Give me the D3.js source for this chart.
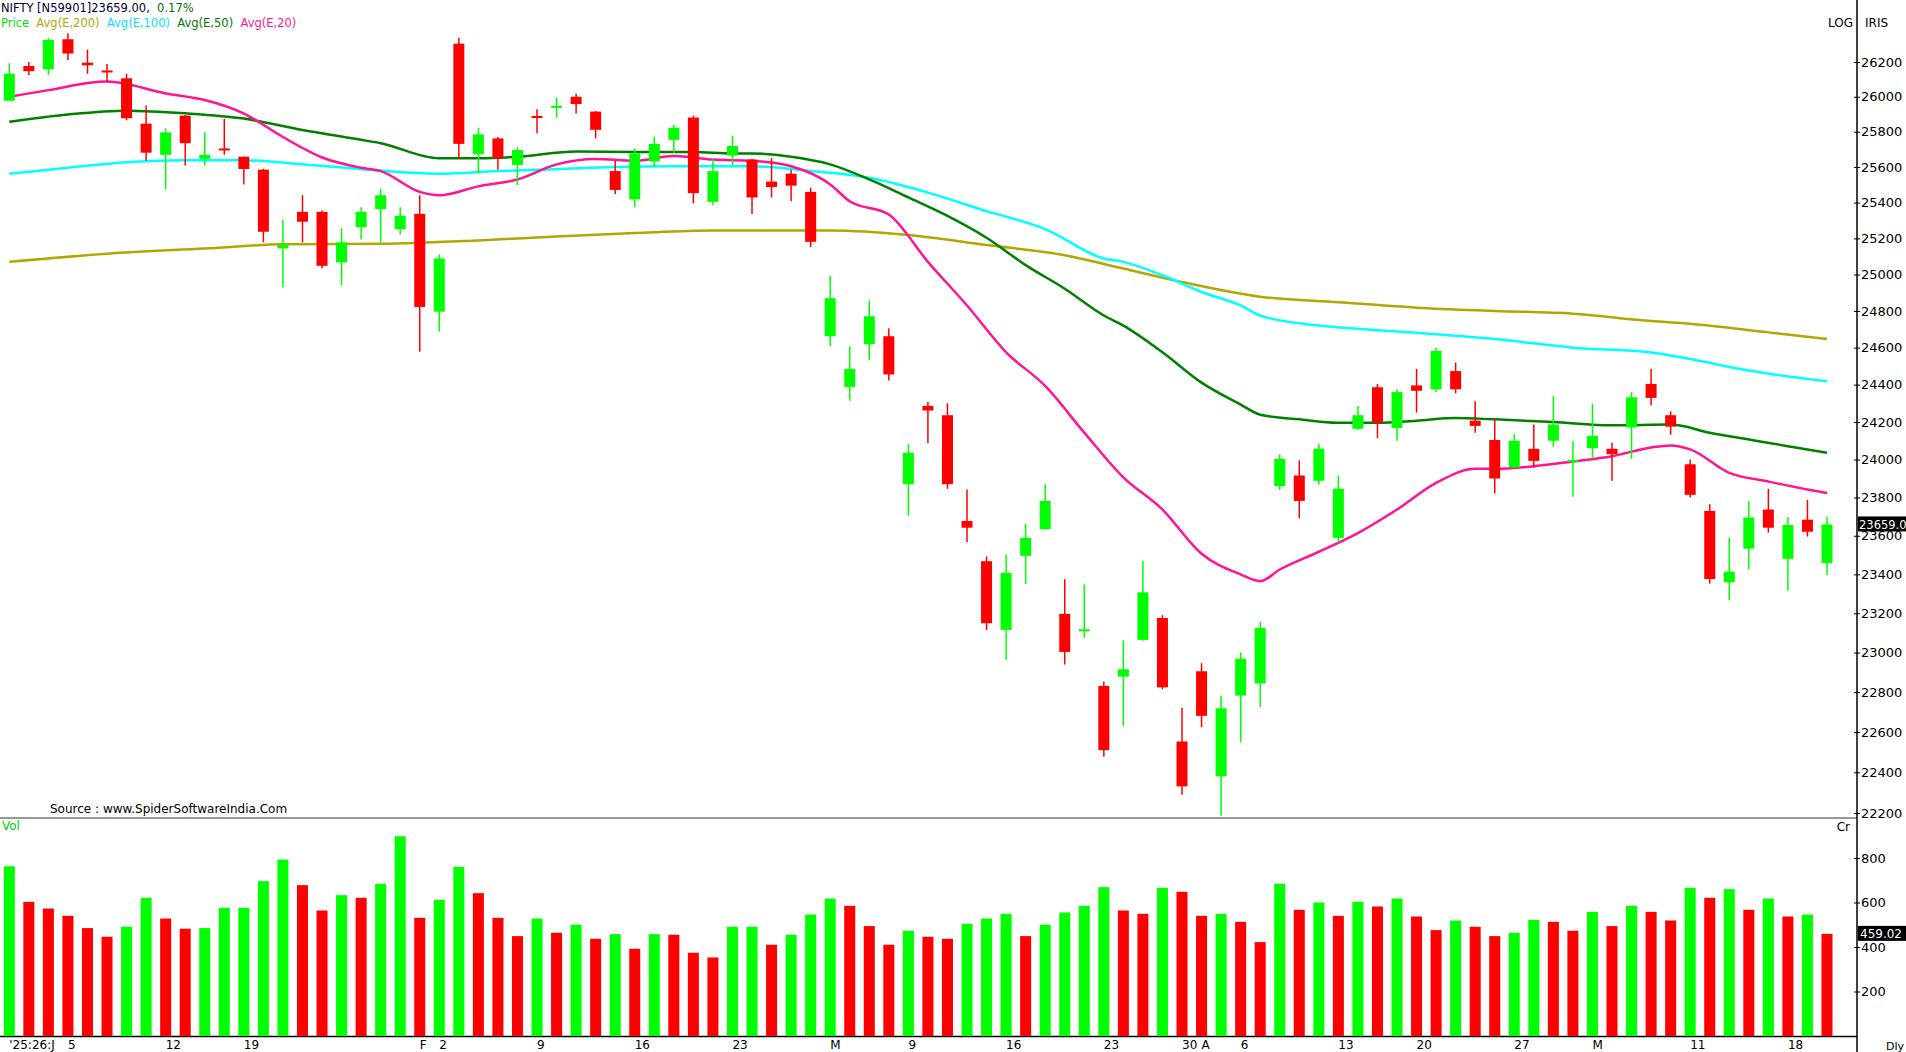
<!DOCTYPE html>
<html>
<head>
<meta charset="utf-8">
<script src="https://cdn.jsdelivr.net/npm/d3@7"></script>
<style>
  body { margin: 0; background: #fff; }
  svg { display: block; font-family: "DejaVu Sans", Tahoma, sans-serif; }
</style>
</head>
<body>
<svg id="chart" width="1906" height="1052"></svg>
<script>
// daily OHLC
const open  = [25977,26177,26158,26332,26196,26151,26106,25846,25669,25892,25646,25705,25658,25585,25144,25348,25348,25067,25263,25363,
  25252,25337,24796,26306,25673,25762,25612,25890,25938,26000,25915,25577,25418,25631,25754,25881,25404,25665,25642,25518,
  25562,25460,24662,24388,24618,24662,23870,24286,24236,23677,23468,23115,23496,23635,23197,23110,22831,22878,23064,23176,
  22553,22905,22380,22783,22844,23860,23916,23888,23589,24164,24386,24168,24396,24375,24473,24207,24104,23958,24057,24100,
  23990,24061,24057,24171,24404,24236,23975,23730,23359,23533,23737,23480,23684,23459];
const high  = [26193,26200,26340,26366,26272,26189,26132,25950,25819,25895,25796,25873,25660,25590,25304,25441,25355,25256,25374,25478,
  25374,25441,25111,26340,25823,25770,25712,25928,25996,26019,25918,25635,25704,25773,25838,25892,25646,25777,25645,25650,
  25585,25483,24993,24607,24858,24706,24082,24307,24300,23842,23493,23503,23663,23870,23375,23347,22854,23061,23469,23190,
  22722,22946,22783,23000,23156,24028,23996,24082,23916,24286,24404,24375,24484,24600,24520,24311,24211,24136,24186,24339,
  24097,24296,24089,24360,24484,24257,24000,23765,23589,23782,23846,23698,23789,23698];
const low   = [25975,26125,26125,26211,26132,26087,25865,25635,25475,25608,25608,25669,25502,25178,24930,25178,25033,24940,25196,25178,
  25222,24578,24687,25650,25565,25585,25498,25792,25881,25904,25762,25448,25374,25600,25681,25396,25385,25612,25336,25429,
  25407,25152,24607,24314,24531,24422,23705,24086,23846,23568,23115,22963,23350,23631,22939,23075,22477,22631,23060,22814,
  22289,22624,22187,22550,22725,23839,23691,23867,23565,24157,24114,24100,24250,24360,24353,24143,23821,23955,23958,24068,
  23804,24004,23888,24004,24289,24132,23800,23352,23266,23425,23617,23317,23596,23397];
const close = [26132,26147,26328,26249,26181,26140,25877,25681,25796,25735,25669,25700,25589,25237,25163,25293,25048,25178,25348,25441,
  25326,24822,25089,25731,25785,25650,25696,25880,25948,25958,25811,25471,25677,25731,25823,25453,25577,25719,25429,25487,
  25495,25181,24870,24484,24771,24455,24036,24261,23870,23642,23149,23407,23589,23782,23003,23118,22510,22915,23307,22824,
  22331,22681,22719,22969,23125,24004,23782,24057,23846,24236,24196,24360,24367,24582,24375,24179,23900,24100,23993,24186,
  23998,24125,24029,24332,24329,24175,23814,23376,23414,23695,23642,23656,23621,23659];

// volume (Cr) and bar colour flag (1 = green, 0 = red)
const volume = [763,603,573,540,485,446,491,621,528,482,485,576,576,696,793,678,564,633,621,684,
  898,531,612,760,642,531,449,528,464,500,437,458,392,458,455,374,353,491,491,410,
  455,546,618,585,494,410,473,446,437,504,528,549,449,500,555,585,669,564,549,666,
  648,540,549,513,422,684,567,600,540,603,582,618,537,476,519,491,449,464,522,513,
  473,558,494,585,558,519,666,621,660,567,618,537,546,459];
const volUp = [1,0,0,0,0,0,1,1,0,0,1,1,1,1,1,0,0,1,0,1,
  1,0,1,1,0,0,0,1,0,1,0,1,0,1,0,0,0,1,1,0,
  1,1,1,0,0,0,1,0,0,1,1,1,0,1,1,1,1,0,0,1,
  0,0,1,0,0,1,0,1,0,1,0,1,0,0,1,0,0,1,1,0,
  0,1,0,1,0,0,1,0,1,0,1,0,1,0];

// moving averages, read at sampled bars
const ema20Idx = [0,2,5,8,10,12,14,16,18,19,21,22,24,26,28,30,32,34,36,38,40,42,43,45,47,49,51,53,55,57,59,61,63,64,65,67,69,71,73,75,76,78,80,82,84,85,86,88,90,92,93];
const ema20 = [26000,26038,26087,26019,25981,25904,25770,25654,25596,25577,25460,25441,25491,25530,25615,25646,25635,25662,25642,25635,25604,25502,25407,25333,25070,24830,24575,24393,24143,23906,23737,23507,23400,23365,23425,23517,23614,23737,23877,23951,23951,23965,23990,24018,24064,24075,24054,23930,23884,23842,23824];
const ema50Idx = [0,3,6,9,12,15,18,19,22,24,26,29,32,35,37,38,40,42,44,46,48,50,52,54,56,57,59,61,63,64,66,68,70,72,74,76,79,82,85,87,89,91,93];
const ema50 = [25857,25898,25920,25905,25875,25810,25754,25735,25650,25650,25658,25688,25685,25685,25677,25677,25658,25615,25530,25429,25326,25204,25052,24922,24775,24720,24575,24411,24293,24239,24214,24196,24196,24207,24221,24214,24200,24182,24186,24143,24107,24071,24036];
const ema100Idx = [0,3,6,9,12,15,18,22,25,28,31,34,38,41,44,47,50,53,56,57,59,61,63,64,67,70,73,76,80,84,86,89,93];
const ema100 = [25562,25596,25627,25638,25638,25615,25588,25562,25577,25588,25600,25604,25604,25577,25539,25456,25352,25252,25089,25070,24996,24904,24830,24775,24720,24695,24673,24647,24600,24574,24538,24476,24418];
const ema200Idx = [0,5,10,14,19,24,28,32,36,42,46,50,54,57,60,64,68,72,76,80,84,86,90,93];
const ema200 = [25070,25115,25144,25167,25170,25189,25211,25230,25244,25244,25219,25163,25107,25033,24959,24878,24848,24818,24800,24785,24745,24730,24683,24647];

const priceTicks = d3.range(22200, 26201, 200);
const volTicks = [200, 400, 600, 800];
const dateLabels = [
  { i: 0, t: "'25:26:J" }, { i: 3, t: "5" }, { i: 8, t: "12" }, { i: 12, t: "19" },
  { i: 21, t: "F" }, { i: 22, t: "2" }, { i: 27, t: "9" }, { i: 32, t: "16" }, { i: 37, t: "23" },
  { i: 42, t: "M" }, { i: 46, t: "9" }, { i: 51, t: "16" }, { i: 56, t: "23" },
  { i: 60, t: "30" }, { i: 61, t: "A" }, { i: 63, t: "6" }, { i: 68, t: "13" }, { i: 72, t: "20" },
  { i: 77, t: "27" }, { i: 81, t: "M" }, { i: 86, t: "11" }, { i: 91, t: "18" }
];

const GREEN = "#00ff00", RED = "#ff0000";
const axisX = 1857;

const svg = d3.select("#chart");
const x = d3.scaleLinear().domain([0, open.length - 1]).range([9.3, 1827]);
const y = d3.scaleLog().domain([22200, 26200]).range([813, 62]);
const yv = d3.scaleLinear().domain([0, 800]).range([1036, 858]);

// panel frame
svg.append("line").attr("x1", 0).attr("x2", axisX).attr("y1", 818).attr("y2", 818)
  .attr("stroke", "#333").attr("stroke-width", 1);
svg.append("line").attr("x1", 0).attr("x2", axisX).attr("y1", 1036.5).attr("y2", 1036.5)
  .attr("stroke", "#000").attr("stroke-width", 1.5);
svg.append("line").attr("x1", axisX).attr("x2", axisX).attr("y1", 0).attr("y2", 1052)
  .attr("stroke", "#000").attr("stroke-width", 1.5);

// right axes
const pAxis = svg.append("g").attr("transform", `translate(${axisX},0)`)
  .call(d3.axisRight(y).tickValues(priceTicks).tickFormat(d3.format("d")).tickSize(3));
const vAxis = svg.append("g").attr("transform", `translate(${axisX},0)`)
  .call(d3.axisRight(yv).tickValues(volTicks).tickFormat(d3.format("d")).tickSize(3));
[pAxis, vAxis].forEach(g => {
  g.select(".domain").remove();
  g.selectAll(".tick line").attr("x1", -3).attr("stroke", "#000");
  g.selectAll(".tick text").attr("x", 4).attr("font-size", 13).attr("fill", "#000")
    .attr("font-family", "DejaVu Sans");
});

// moving averages
const maLine = d3.line().x(d => x(d[0])).y(d => y(d[1])).curve(d3.curveMonotoneX);
[[ema200Idx, ema200, "#b3a600"], [ema100Idx, ema100, "#00ffff"],
 [ema50Idx, ema50, "#008000"], [ema20Idx, ema20, "#ff1493"]].forEach(([idx, vals, c]) => {
  svg.append("path").datum(idx.map((k, j) => [k, vals[j]]))
    .attr("d", maLine).attr("fill", "none").attr("stroke", c).attr("stroke-width", 2.5);
});

// candles
const candles = d3.range(open.length);
const cg = svg.append("g");
cg.selectAll("line.wick").data(candles).enter().append("line")
  .attr("x1", i => x(i)).attr("x2", i => x(i))
  .attr("y1", i => y(high[i])).attr("y2", i => y(low[i]))
  .attr("stroke", i => close[i] >= open[i] ? GREEN : RED).attr("stroke-width", 1.5);
cg.selectAll("rect").data(candles).enter().append("rect")
  .attr("x", i => x(i) - 5.5).attr("width", 11)
  .attr("y", i => y(Math.max(open[i], close[i])))
  .attr("height", i => Math.max(2, Math.abs(y(open[i]) - y(close[i]))))
  .attr("fill", i => close[i] >= open[i] ? GREEN : RED);

// volume bars
svg.append("g").selectAll("rect").data(candles).enter().append("rect")
  .attr("x", i => x(i) - 5.5).attr("width", 11)
  .attr("y", i => yv(volume[i])).attr("height", i => yv(0) - yv(volume[i]))
  .attr("fill", i => volUp[i] ? GREEN : RED);

// date labels
svg.append("g").selectAll("text").data(dateLabels).enter().append("text")
  .attr("x", d => x(d.i)).attr("y", 1049).attr("font-size", 12).attr("fill", "#000")
  .text(d => d.t);

// titles / legend
const t1 = svg.append("text").attr("x", 1).attr("y", 12).attr("font-size", 11.5).attr("xml:space", "preserve");
t1.append("tspan").attr("fill", "#000033").text("NIFTY [N59901]23659.00,  ");
t1.append("tspan").attr("fill", "#007000").text("0.17%");
const t2 = svg.append("text").attr("x", 1).attr("y", 27).attr("font-size", 11.5).attr("xml:space", "preserve");
[["Price", "#00dd00"], ["Avg(E,200)", "#b3a600"], ["Avg(E,100)", "#00e5ff"],
 ["Avg(E,50)", "#007a00"], ["Avg(E,20)", "#ff1493"]].forEach(([s, c], k) => {
  t2.append("tspan").attr("fill", c).text((k ? "  " : "") + s);
});

svg.append("text").attr("x", 50).attr("y", 813).attr("font-size", 12).attr("fill", "#000")
  .text("Source : www.SpiderSoftwareIndia.Com");
svg.append("text").attr("x", 2).attr("y", 830).attr("font-size", 12).attr("fill", "#00cc00").text("Vol");
svg.append("text").attr("x", 1853).attr("y", 27).attr("font-size", 12).attr("text-anchor", "end").text("LOG");
svg.append("text").attr("x", 1865).attr("y", 27).attr("font-size", 12).text("IRIS");
svg.append("text").attr("x", 1850).attr("y", 831).attr("font-size", 12).attr("text-anchor", "end").text("Cr");
svg.append("text").attr("x", 1886).attr("y", 1050).attr("font-size", 11).text("Dly");

// last value boxes
const lastP = close[close.length - 1], lastV = volume[volume.length - 1];
svg.append("rect").attr("x", 1858).attr("y", y(lastP) - 8).attr("width", 48).attr("height", 15).attr("fill", "#000");
svg.append("text").attr("x", 1859).attr("y", y(lastP) + 4.5).attr("font-size", 11.5).attr("fill", "#fff")
  .text(lastP.toFixed(1));
svg.append("rect").attr("x", 1858).attr("y", yv(lastV) - 8).attr("width", 48).attr("height", 15).attr("fill", "#000");
svg.append("text").attr("x", 1860).attr("y", yv(lastV) + 4.5).attr("font-size", 12).attr("fill", "#fff")
  .text("459.02");
</script>
</body>
</html>
